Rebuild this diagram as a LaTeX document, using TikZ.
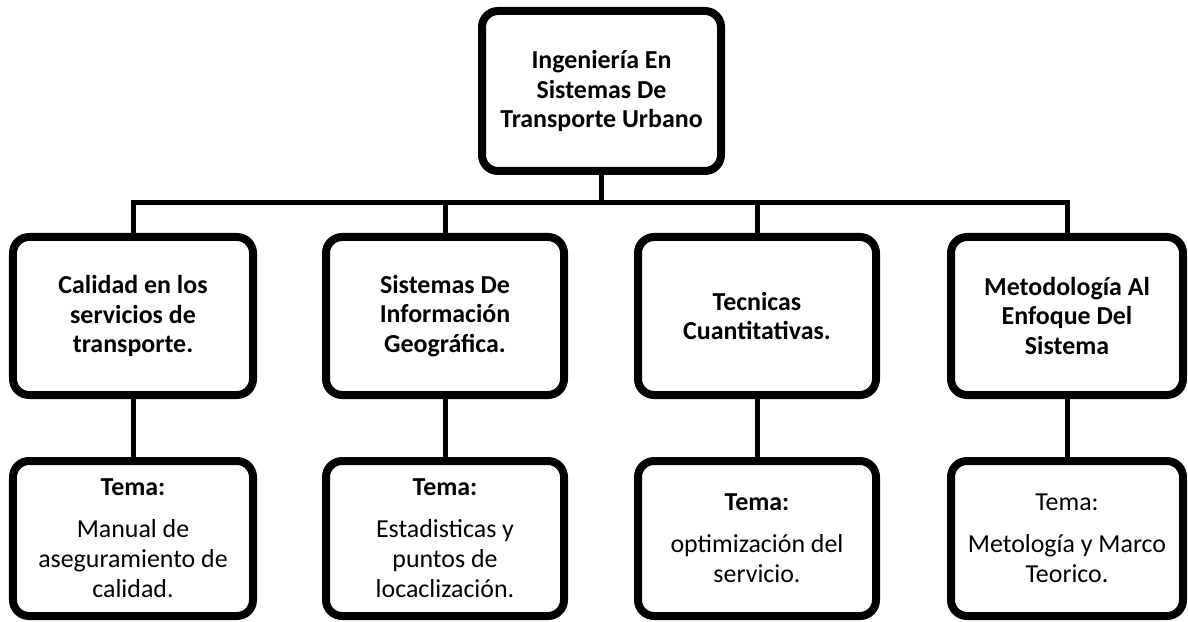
\documentclass[tikz,border=0pt]{standalone}
\usepackage{fontspec}
\setmainfont{Carlito}
\usetikzlibrary{positioning}
\usetikzlibrary{shadows}

\begin{document}
\begin{tikzpicture}[x=1bp, y=-1bp,
    box/.style={draw, fill=white, line width=8bp, rounded corners=16bp,
      inner sep=0pt, align=center,
      font=\fontsize{26}{30}\selectfont,
      drop shadow={shadow xshift=1.5bp, shadow yshift=-3bp, opacity=0.25}},
    head/.style={box, font=\fontsize{26}{30}\selectfont\bfseries},
    area/.style={head, minimum height=158bp},
    tema/.style={box, minimum height=155bp},
    link/.style={line width=5bp}]
      \useasboundingbox (0,0) rectangle (1188,622);

      \node[head, minimum width=239bp, minimum height=160bp] (root) at (601.5, 91)
        {Ingeniería En\\Sistemas De\\Transporte Urbano};

      \node[area, minimum width=240bp] (calidad) at (133, 316)
        {Calidad en los\\servicios de\\transporte.};
      \node[area, minimum width=238bp] (sig) at (445, 316)
        {Sistemas De\\Información\\Geográfica.};
      \node[area, minimum width=238bp] (tecnicas) at (757, 316)
        {Tecnicas\\Cuantitativas.};
      \node[area, minimum width=232bp] (metodo) at (1067, 316)
        {Metodología Al\\Enfoque Del\\Sistema};

      \node[tema, minimum width=240bp] (tcalidad) at (133, 538.5)
        {\textbf{Tema:}\\[12bp]Manual de\\aseguramiento de\\calidad.};
      \node[tema, minimum width=238bp] (tsig) at (445, 538.5)
        {\textbf{Tema:}\\[12bp]Estadisticas y\\puntos de\\locaclización.};
      \node[tema, minimum width=238bp] (ttecnicas) at (757, 538.5)
        {\textbf{Tema:}\\[12bp]optimización del\\servicio.};
      \node[tema, minimum width=232bp] (tmetodo) at (1067, 538.5)
        {Tema:\\[12bp]Metología y Marco\\Teorico.};

      \coordinate (bus) at (601.5, 203);

      \draw[link] (root) -- (bus);
      \draw[link] (calidad) |- (bus) -| (metodo);
      \draw[link] (sig) |- (bus);
      \draw[link] (tecnicas) |- (bus);
      \draw[link] (calidad) -- (tcalidad);
      \draw[link] (sig) -- (tsig);
      \draw[link] (tecnicas) -- (ttecnicas);
      \draw[link] (metodo) -- (tmetodo);
    \end{tikzpicture}
\end{document}
